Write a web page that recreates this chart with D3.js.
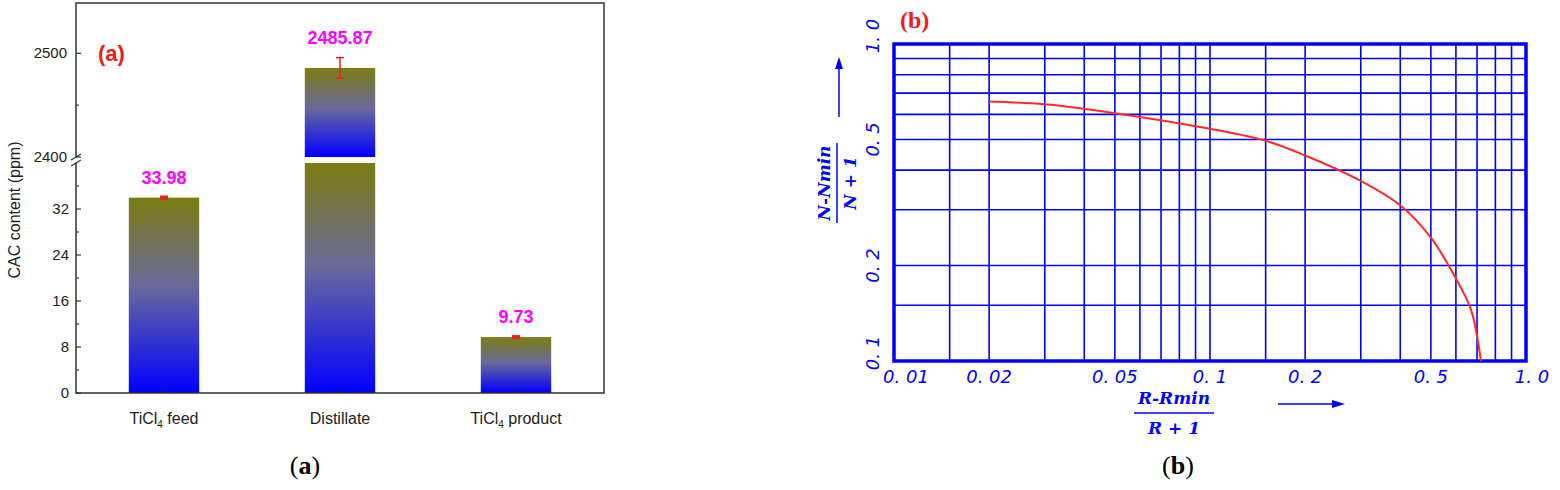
<!DOCTYPE html>
<html><head><meta charset="utf-8">
<script src="https://cdn.jsdelivr.net/npm/d3@7"></script>
<style>body{margin:0;background:#fff}</style></head>
<body><svg id="c" width="1560" height="490"></svg>
<script>
// ---- Panel (a) data ----
const categories = ["TiCl4 feed", "Distillate", "TiCl4 product"];
const values = [33.98, 2485.87, 9.73];
const errors = [0.15, 10, 0.12];
const lowerTicks = [0, 8, 16, 24, 32];
const lowerMinor = [4, 12, 20, 28, 36];
const upperTicks = [2400, 2500];
const upperMinor = [2450];
const lowerDomain = [0, 40];
const upperDomain = [2400, 2548.5];
// ---- Panel (b) data ----
const curveX = [0.02, 0.03, 0.05, 0.1, 0.15, 0.2, 0.3, 0.4, 0.5, 0.6, 0.67, 0.72];
const curveY = [0.658, 0.645, 0.605, 0.54, 0.495, 0.445, 0.37, 0.31, 0.245, 0.182, 0.145, 0.1];
const gridX = [0.015, 0.02, 0.03, 0.04, 0.05, 0.06, 0.07, 0.08, 0.09, 0.1, 0.15, 0.2, 0.3, 0.4, 0.5, 0.6, 0.7, 0.8, 0.9];
const gridY = [0.15, 0.2, 0.3, 0.4, 0.5, 0.6, 0.7, 0.8, 0.9];
const xTickVals = [0.01, 0.02, 0.05, 0.1, 0.2, 0.5, 1.0];
const xTickLabels = ["0. 01", "0. 02", "0. 05", "0. 1", "0. 2", "0. 5", "1. 0"];
const yTickVals = [0.1, 0.2, 0.5, 1.0];
const yTickLabels = ["0. 1", "0. 2", "0. 5", "1. 0"];

const svg = d3.select("#c");
const defs = svg.append("defs");
const g = defs.append("linearGradient").attr("id","bg").attr("x1",0).attr("y1",0).attr("x2",0).attr("y2",1);
g.append("stop").attr("offset","0%").attr("stop-color","#7d7d12");
g.append("stop").attr("offset","45%").attr("stop-color","#6a6a9a");
g.append("stop").attr("offset","100%").attr("stop-color","#0000ff");

// ===== Panel (a) =====
const L=76, R=604, T=3, B=393;
const x = d3.scaleBand().domain(categories).range([L,R]).paddingInner(0.6).paddingOuter(0.3);
const yLo = d3.scaleLinear().domain(lowerDomain).range([B,163]);
const yHi = d3.scaleLinear().domain(upperDomain).range([157,T]);
const yv = v => v <= lowerDomain[1] ? yLo(v) : yHi(v);
const A = svg.append("g").attr("font-family","Liberation Sans, Arial, sans-serif");

categories.forEach((c,i)=>{
  const v = values[i];
  if (v <= lowerDomain[1]) {
    A.append("rect").attr("x",x(c)).attr("width",x.bandwidth()).attr("y",yLo(v)).attr("height",yLo(0)-yLo(v)).attr("fill","url(#bg)");
  } else {
    A.append("rect").attr("x",x(c)).attr("width",x.bandwidth()).attr("y",yLo(lowerDomain[1])).attr("height",yLo(0)-yLo(lowerDomain[1])).attr("fill","url(#bg)");
    A.append("rect").attr("x",x(c)).attr("width",x.bandwidth()).attr("y",yHi(v)).attr("height",yHi(upperDomain[0])-yHi(v)).attr("fill","url(#bg)");
  }
  const cx = x(c)+x.bandwidth()/2;
  const e = errors[i];
  const big = v > lowerDomain[1];
  A.append("line").attr("x1",cx).attr("x2",cx).attr("y1",yv(v-e)).attr("y2",yv(v+e)).attr("stroke","#e8221e").attr("stroke-width",big?1.5:3);
  [v-e,v+e].forEach(w=>A.append("line").attr("x1",cx-4).attr("x2",cx+4).attr("y1",yv(w)).attr("y2",yv(w)).attr("stroke","#e8221e").attr("stroke-width",big?1.5:2.5));
  A.append("text").attr("x",cx).attr("y",yv(v)-(big?24:14)).attr("text-anchor","middle").attr("font-weight","bold").attr("font-size",18).attr("fill","#ff00ff").text(v.toFixed(2));
  A.append("line").attr("x1",cx).attr("x2",cx).attr("y1",B).attr("y2",B-5).attr("stroke","#222").attr("stroke-width",1.2);
});
A.append("path").attr("d",`M${L},${163}V${B}H${R}V${T}H${L}V157`).attr("fill","none").attr("stroke","#333").attr("stroke-width",1.5);
[157,163].forEach(yy=>A.append("line").attr("x1",L-5).attr("x2",L+5).attr("y1",yy+3).attr("y2",yy-3).attr("stroke","#333").attr("stroke-width",1.3));
const tick=(yy,len)=>A.append("line").attr("x1",L).attr("x2",L+len).attr("y1",yy).attr("y2",yy).attr("stroke","#333").attr("stroke-width",1.2);
lowerTicks.forEach(t=>{tick(yLo(t),5);A.append("text").attr("x",L-7).attr("y",yLo(t)+5).attr("text-anchor","end").attr("font-size",15).attr("fill","#222").text(t);});
lowerMinor.forEach(t=>tick(yLo(t),3));
upperTicks.forEach(t=>{tick(yHi(t),5);A.append("text").attr("x",L-9).attr("y",yHi(t)+5).attr("text-anchor","end").attr("font-size",15).attr("fill","#222").text(t);});
upperMinor.forEach(t=>tick(yHi(t),3));
A.append("text").attr("transform","translate(20,210) rotate(-90)").attr("text-anchor","middle").attr("font-size",16).attr("fill","#222").text("CAC content (ppm)");
categories.forEach(c=>{
  const t=A.append("text").attr("x",x(c)+x.bandwidth()/2).attr("y",424).attr("text-anchor","middle").attr("font-size",16).attr("fill","#222");
  if(c.startsWith("TiCl4")){
    t.append("tspan").text("TiCl");
    t.append("tspan").attr("dy",4).attr("font-size",10).text("4");
    t.append("tspan").attr("dy",-4).text(c.slice(5));
  } else t.text(c);
});
A.append("text").attr("x",98).attr("y",61).attr("font-size",22).attr("font-weight","bold").attr("fill","#ee1c1c").text("(a)");
const ca = svg.append("text").attr("x",305).attr("y",474).attr("text-anchor","middle").attr("font-family","Liberation Serif, Times New Roman, serif").attr("font-size",26);
ca.append("tspan").text("(");ca.append("tspan").attr("font-weight","bold").text("a");ca.append("tspan").text(")");

// ===== Panel (b) =====
const bL=894, bR=1526, bT=44, bB=361;
const xs = d3.scaleLog().domain([0.01,1]).range([bL,bR]);
const ys = d3.scaleLog().domain([0.1,1]).range([bB,bT]);
const Bg = svg.append("g");
const blue="#0000ff";
gridX.forEach(v=>Bg.append("line").attr("x1",xs(v)).attr("x2",xs(v)).attr("y1",bT).attr("y2",bB).attr("stroke",blue).attr("stroke-width",1.6));
gridY.forEach(v=>Bg.append("line").attr("x1",bL).attr("x2",bR).attr("y1",ys(v)).attr("y2",ys(v)).attr("stroke",blue).attr("stroke-width",1.6));
Bg.append("rect").attr("x",bL).attr("y",bT).attr("width",bR-bL).attr("height",bB-bT).attr("fill","none").attr("stroke",blue).attr("stroke-width",3.5);
const line = d3.line().x(d=>xs(d[0])).y(d=>ys(d[1])).curve(d3.curveCatmullRom.alpha(0.5));
Bg.append("path").attr("d",line(curveX.map((v,i)=>[v,curveY[i]]))).attr("fill","none").attr("stroke","#ff2a2a").attr("stroke-width",2);
const itf="DejaVu Sans, sans-serif";
xTickVals.forEach((v,i)=>Bg.append("text").attr("x",xs(v)+(i==0?12:i==6?6:0)).attr("y",383).attr("text-anchor","middle").attr("font-family",itf).attr("font-style","italic").attr("font-size",18).attr("fill",blue).text(xTickLabels[i]));
yTickVals.forEach((v,i)=>{
  const yy = ys(v)+(i==0?-8:i==3?-8:0);
  Bg.append("text").attr("transform",`translate(879,${yy}) rotate(-90)`).attr("text-anchor","middle").attr("font-family",itf).attr("font-style","italic").attr("font-size",18).attr("fill",blue).text(yTickLabels[i]);
});
const sf="DejaVu Serif, serif";
const yt = Bg.append("g").attr("transform","translate(837,183) rotate(-90)");
yt.append("text").attr("x",0).attr("y",-7).attr("text-anchor","middle").attr("font-family",sf).attr("font-style","italic").attr("font-weight","bold").attr("font-size",17).attr("fill",blue).text("N-Nmin");
yt.append("line").attr("x1",-40).attr("x2",40).attr("y1",0).attr("y2",0).attr("stroke",blue).attr("stroke-width",1.5);
yt.append("text").attr("x",0).attr("y",19).attr("text-anchor","middle").attr("font-family",sf).attr("font-style","italic").attr("font-weight","bold").attr("font-size",17).attr("fill",blue).text("N + 1");
Bg.append("line").attr("x1",839).attr("x2",839).attr("y1",117).attr("y2",66).attr("stroke",blue).attr("stroke-width",1.5);
Bg.append("path").attr("d","M839,57L835,69L843,69Z").attr("fill",blue);
Bg.append("text").attr("x",1174).attr("y",404).attr("text-anchor","middle").attr("font-family",sf).attr("font-style","italic").attr("font-weight","bold").attr("font-size",17).attr("fill",blue).text("R-Rmin");
Bg.append("line").attr("x1",1134).attr("x2",1214).attr("y1",413).attr("y2",413).attr("stroke",blue).attr("stroke-width",1.5);
Bg.append("text").attr("x",1174).attr("y",434).attr("text-anchor","middle").attr("font-family",sf).attr("font-style","italic").attr("font-weight","bold").attr("font-size",17).attr("fill",blue).text("R + 1");
Bg.append("line").attr("x1",1278).attr("x2",1334).attr("y1",404).attr("y2",404).attr("stroke",blue).attr("stroke-width",1.5);
Bg.append("path").attr("d","M1345,404L1332,400L1332,408Z").attr("fill",blue);
Bg.append("text").attr("x",900).attr("y",28).attr("font-family","Liberation Serif, serif").attr("font-weight","bold").attr("font-size",24).attr("fill","#ee1c1c").text("(b)");
const cb = svg.append("text").attr("x",1178).attr("y",474).attr("text-anchor","middle").attr("font-family","Liberation Serif, Times New Roman, serif").attr("font-size",26);
cb.append("tspan").text("(");cb.append("tspan").attr("font-weight","bold").text("b");cb.append("tspan").text(")");
</script></body></html>
